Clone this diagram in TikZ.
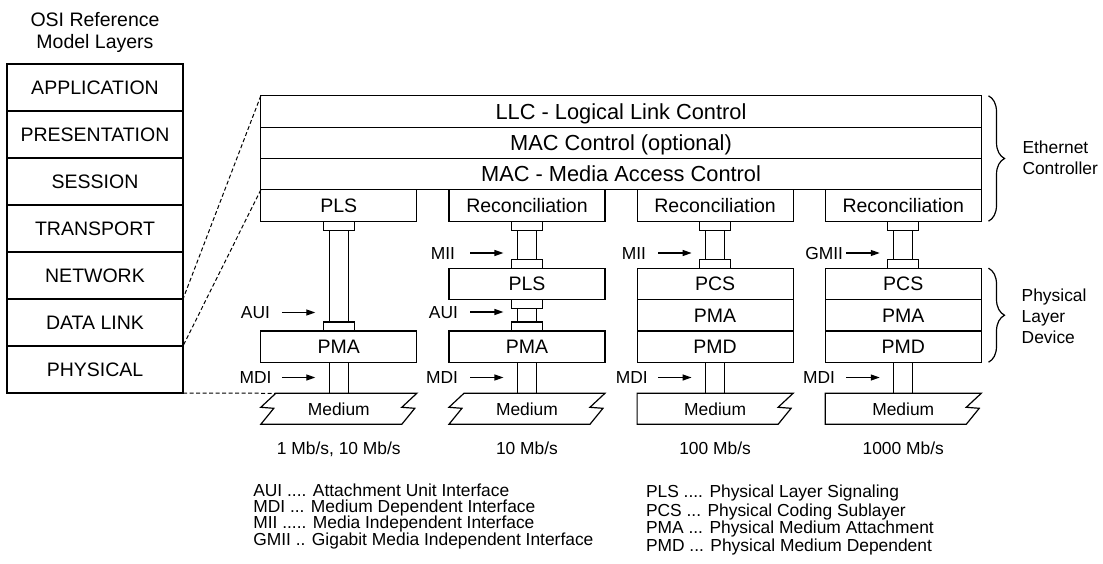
\documentclass[tikz,border=0pt]{standalone}
\usepackage{fontspec}
\setmainfont{Liberation Sans}
\usetikzlibrary{arrows.meta,decorations.pathreplacing}

\begin{document}
\begin{tikzpicture}[x=1pt,y=-1pt,
  line width=1.2pt,
  every node/.style={outer sep=0pt},
  lbl/.style={inner sep=0pt, font=\fontsize{17.4}{21}\selectfont, text height=12.5pt, text depth=0pt},
  ttl/.style={inner sep=0pt, font=\fontsize{19.5}{23}\selectfont, text height=14pt, text depth=0pt},
  layer/.style={ttl, draw, minimum width=176pt, minimum height=47pt},
  unit/.style={ttl, draw, minimum width=156pt, minimum height=31.35pt},
  wide/.style={unit, minimum width=720.45pt, font=\fontsize{21.8}{25}\selectfont, text height=15.6pt},
  ifcap/.style={draw, inner sep=0pt, minimum width=31pt, minimum height=9pt},
  arr/.style={-{Triangle[length=9pt,width=6pt]}},
  guide/.style={line width=1pt, dash pattern=on 4pt off 2.5pt},
  grp/.style={decorate, decoration={brace, amplitude=16pt}},
]
\useasboundingbox (0,0) rectangle (1103,564);

% OSI reference model
\node[ttl] (osiA) at (95,20) {OSI Reference};
\node[ttl] (osiB) at (95,42) {Model Layers};
\node[layer] (app)   at (95,87.5)  {APPLICATION};
\node[layer] (pres)  at (95,134.5) {PRESENTATION};
\node[layer] (sess)  at (95,181.5) {SESSION};
\node[layer] (trans) at (95,228.5) {TRANSPORT};
\node[layer] (net)   at (95,275.5) {NETWORK};
\node[layer] (dl)    at (95,322.5) {DATA LINK};
\node[layer] (phy)   at (95,369.5) {PHYSICAL};

% Ethernet controller stack
\node[wide] (llc)  at (621.025,111.475) {LLC - Logical Link Control};
\node[wide] (macc) at (621.025,142.825) {MAC Control (optional)};
\node[wide] (mac)  at (621.025,174.175) {MAC - Media Access Control};
\node[unit] (pls1) at (338.8,205.525)  {PLS};
\node[unit] (rec2) at (526.95,205.525) {Reconciliation};
\node[unit] (rec3) at (715.1,205.525)  {Reconciliation};
\node[unit] (rec4) at (903.25,205.525) {Reconciliation};

% physical layer devices
\node[unit] (pma1) at (338.8,346.575)  {PMA};
\node[unit] (pls2) at (526.95,283.875) {PLS};
\node[unit] (pma2) at (526.95,346.575) {PMA};
\node[unit] (pcs3) at (715.1,283.875)  {PCS};
\node[unit] (pma3) at (715.1,315.225)  {PMA};
\node[unit] (pmd3) at (715.1,346.575)  {PMD};
\node[unit] (pcs4) at (903.25,283.875) {PCS};
\node[unit] (pma4) at (903.25,315.225) {PMA};
\node[unit] (pmd4) at (903.25,346.575) {PMD};

% interface connectors
\node[ifcap, anchor=north] (t1) at (pls1.south) {};
\node[ifcap, anchor=south] (b1) at (pma1.north) {};
\draw ([xshift=-9.5pt]t1.south) rectangle ([xshift=9.5pt]b1.north);
\node[ifcap, anchor=north] (t2) at (rec2.south) {};
\node[ifcap, anchor=south] (b2) at (pls2.north) {};
\draw ([xshift=-9.5pt]t2.south) rectangle ([xshift=9.5pt]b2.north);
\node[ifcap, anchor=north] (u2) at (pls2.south) {};
\node[ifcap, anchor=south] (v2) at (pma2.north) {};
\draw ([xshift=-9.5pt]u2.south) rectangle ([xshift=9.5pt]v2.north);
\node[ifcap, anchor=north] (t3) at (rec3.south) {};
\node[ifcap, anchor=south] (b3) at (pcs3.north) {};
\draw ([xshift=-9.5pt]t3.south) rectangle ([xshift=9.5pt]b3.north);
\node[ifcap, anchor=north] (t4) at (rec4.south) {};
\node[ifcap, anchor=south] (b4) at (pcs4.north) {};
\draw ([xshift=-9.5pt]t4.south) rectangle ([xshift=9.5pt]b4.north);

% media
\coordinate (m1) at (338.8,393.3);
\coordinate (m2) at (526.95,393.3);
\coordinate (m3) at (715.1,393.3);
\coordinate (m4) at (903.25,393.3);
\coordinate (m1tl) at (275.8,393.3);
\draw ([xshift=-9.5pt]pma1.south) rectangle ([xshift=9.5pt]m1);
\draw ([xshift=-9.5pt]pma2.south) rectangle ([xshift=9.5pt]m2);
\draw ([xshift=-9.5pt]pmd3.south) rectangle ([xshift=9.5pt]m3);
\draw ([xshift=-9.5pt]pmd4.south) rectangle ([xshift=9.5pt]m4);
\draw (m1tl) -- (416.8,393.3) -- ++(-15,14) -- ++(13,1) -- (401.8,424.3)
  -- (260.8,424.3) -- ++(13,-16) -- ++(-13,-1) -- cycle;
\draw (463.95,393.3) -- (604.95,393.3) -- ++(-15,14) -- ++(13,1) -- (589.95,424.3)
  -- (448.95,424.3) -- ++(13,-16) -- ++(-13,-1) -- cycle;
\draw (637.1,393.3) -- (793.1,393.3) -- ++(-15,14) -- ++(13,1) -- (778.1,424.3)
  -- (637.1,424.3) -- cycle;
\draw (825.25,393.3) -- (981.25,393.3) -- ++(-15,14) -- ++(13,1) -- (966.25,424.3)
  -- (825.25,424.3) -- cycle;
\node[lbl] (med1) at (338.8,408.8)  {Medium};
\node[lbl] (med2) at (526.95,408.8) {Medium};
\node[lbl] (med3) at (715.1,408.8)  {Medium};
\node[lbl] (med4) at (903.25,408.8) {Medium};

% projection of the OSI layers
\draw[guide] (llc.north west) -- (net.south east);
\draw[guide] (pls1.north west) -- (dl.south east);
\draw[guide] (phy.south east) -- (m1tl);

% interface labels
\node[lbl, anchor=east] (aui1) at (270,312.5) {AUI};
\coordinate (aui1e) at (315.3,312.5);
\draw[arr] ([xshift=11.8pt]aui1.east) -- (aui1e);
\node[lbl, anchor=east] (mdi1) at (271.5,377.5) {MDI};
\coordinate (mdi1e) at (315.3,377.5);
\draw[arr] ([xshift=10.3pt]mdi1.east) -- (mdi1e);

\node[lbl, anchor=east] (mii2) at (455,253) {MII};
\coordinate (mii2e) at (503.45,253);
\draw[arr] ([xshift=15pt]mii2.east) -- (mii2e);
\node[lbl, anchor=east] (aui2) at (458,312) {AUI};
\coordinate (aui2e) at (503.45,312);
\draw[arr] ([xshift=12pt]aui2.east) -- (aui2e);
\node[lbl, anchor=east] (mdi2) at (458,377.5) {MDI};
\coordinate (mdi2e) at (503.45,377.5);
\draw[arr] ([xshift=12pt]mdi2.east) -- (mdi2e);

\node[lbl, anchor=east] (mii3) at (646,253) {MII};
\coordinate (mii3e) at (691.6,253);
\draw[arr] ([xshift=12.1pt]mii3.east) -- (mii3e);
\node[lbl, anchor=east] (mdi3) at (647.7,377.5) {MDI};
\coordinate (mdi3e) at (691.6,377.5);
\draw[arr] ([xshift=10.4pt]mdi3.east) -- (mdi3e);

\node[lbl, anchor=east] (gmii4) at (843,253) {GMII};
\coordinate (gmii4e) at (879.75,253);
\draw[arr] ([xshift=3.2pt]gmii4.east) -- (gmii4e);
\node[lbl, anchor=east] (mdi4) at (835,377.5) {MDI};
\coordinate (mdi4e) at (879.75,377.5);
\draw[arr] ([xshift=11.2pt]mdi4.east) -- (mdi4e);

% groupings
\draw[grp] (988.5,95.8) -- (988.5,221.2);
\draw[grp] (988.5,268.2) -- (988.5,362.25);
\node[lbl, anchor=west] (ec1) at (1022.5,147.3) {Ethernet};
\node[lbl, anchor=west] (ec2) at (1022.5,168.3) {Controller};
\node[lbl, anchor=west] (pd1) at (1021.7,295)   {Physical};
\node[lbl, anchor=west] (pd2) at (1021.7,316.7) {Layer};
\node[lbl, anchor=west] (pd3) at (1021.7,337.3) {Device};

% data rates
\node[lbl] (rate1) at (338.8,448.3)  {1 Mb/s, 10 Mb/s};
\node[lbl] (rate2) at (526.95,448.3) {10 Mb/s};
\node[lbl] (rate3) at (715.1,448.3)  {100 Mb/s};
\node[lbl] (rate4) at (903.25,448.3) {1000 Mb/s};

% abbreviations
\node[lbl, anchor=west] (ab1) at (253.3,490)   {AUI .... Attachment Unit Interface};
\node[lbl, anchor=west] (ab2) at (253.3,506.7) {MDI ... Medium Dependent Interface};
\node[lbl, anchor=west] (ab3) at (253.3,522.7) {MII ..... Media Independent Interface};
\node[lbl, anchor=west] (ab4) at (253.3,539.3) {GMII .. Gigabit Media Independent Interface};
\node[lbl, anchor=west] (ab5) at (646,491.7) {PLS .... Physical Layer Signaling};
\node[lbl, anchor=west] (ab6) at (646,510)   {PCS ... Physical Coding Sublayer};
\node[lbl, anchor=west] (ab7) at (646,527.3) {PMA ... Physical Medium Attachment};
\node[lbl, anchor=west] (ab8) at (646,545)   {PMD ... Physical Medium Dependent};
\end{tikzpicture}
\end{document}
